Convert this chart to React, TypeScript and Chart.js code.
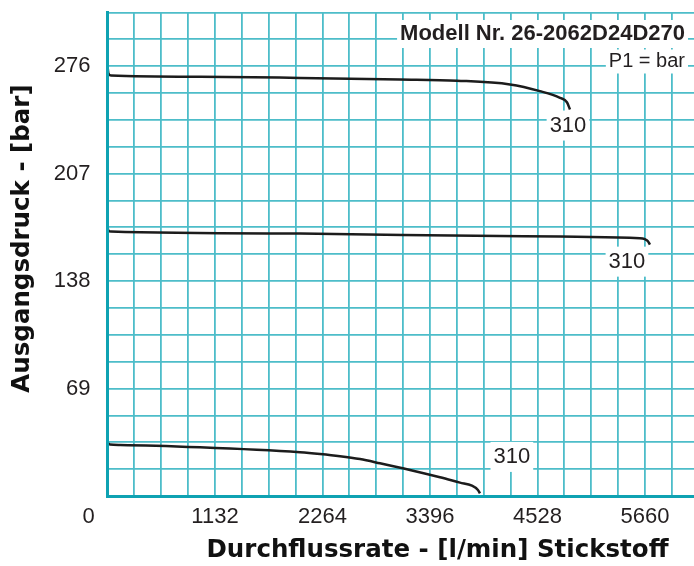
import React, { useEffect, useRef } from 'react';
import { Chart, registerables } from 'chart.js';

Chart.register(...registerables);

// Flow (l/min) and outlet pressure (bar)
const xTop = [0, 10, 37, 974, 2027, 3080, 3680, 4238, 4554, 4765, 4838, 4870];
const yTop = [276.2, 271.3, 270, 269.2, 268.5, 267.5, 266.7, 264.3, 260, 255.7, 252.9, 248.2];

const xMid = [0, 10, 37, 2027, 4133, 5607, 5660, 5691, 5712];
const yMid = [172.6, 170.4, 169.8, 168.5, 166.9, 165.6, 164.9, 163.6, 161.4];

const xLow = [0, 26, 132, 974, 2027, 2238, 2448, 2659, 2869, 3185, 3501, 3712, 3838, 3901, 3922];
const yLow = [34.3, 33.1, 32.8, 31.3, 28.1, 27.0, 25.6, 23.7, 21, 16.7, 12, 8.6, 6.6, 3.9, 1.7];

// curve labels (inlet pressure) and their anchor positions in data units
const curveLabels = ['310', '310', '310'];
const labelX = [4849, 5470, 4258];
const labelY = [237.9, 150.5, 25.1];

// axis tick labels
const xTickLabels = [1132, 2264, 3396, 4528, 5660];
const yTickLabels = [69, 138, 207, 276];
const xZeroLabel = '0';

const xGridStep = 283;
const xMax = 6176;
const yGridStep = 17.25;
const yMax = 310.5;

const modelText = 'Modell Nr. 26-2062D24D270';
const p1Text = 'P1 = bar';
const xTitle = 'Durchflussrate - [l/min] Stickstoff';
const yTitle = 'Ausgangsdruck - [bar]';

const toPts = (xs: number[], ys: number[]) => xs.map((x, i) => ({ x, y: ys[i] }));

const gridValues = (step: number, max: number) => {
  const out: { value: number }[] = [];
  for (let k = 0; k * step <= max + 1e-6; k++) out.push({ value: k * step });
  return out;
};

const TEXT = '#231f20';
const GRID = '#4dbdc9';
const AXIS = '#0ea2b2';
const FONT = "'Liberation Sans', Arial, sans-serif";
const TITLE_FONT = "bold 24.5px 'DejaVu Sans', sans-serif";

const noPad = (s: any) => {
  s.paddingTop = 0;
  s.paddingBottom = 0;
  s.paddingLeft = 0;
  s.paddingRight = 0;
};

export default function App() {
  const ref = useRef<HTMLCanvasElement | null>(null);

  useEffect(() => {
    document.body.style.margin = '0';
    const canvas = ref.current;
    if (!canvas) return;

    const boxText = (ctx: CanvasRenderingContext2D, text: string, x: number, y: number, size: number, font: string, align: CanvasTextAlign, padX: number, padY: number) => {
      ctx.font = font;
      const w = ctx.measureText(text).width;
      let left = x;
      if (align === 'center') left = x - w / 2;
      if (align === 'right') left = x - w;
      ctx.fillStyle = '#ffffff';
      ctx.fillRect(left - padX, y - size / 2 - padY, w + padX * 2, size + padY * 2);
      ctx.fillStyle = TEXT;
      ctx.textAlign = align;
      ctx.textBaseline = 'middle';
      ctx.fillText(text, x, y);
    };

    const annotations = {
      id: 'annotations',
      beforeDatasetsDraw(chart: any) {
        const ctx = chart.ctx as CanvasRenderingContext2D;
        const { chartArea } = chart;
        const xs = chart.scales.x;
        const ys = chart.scales.y;
        ctx.save();
        curveLabels.forEach((t, i) => {
          boxText(ctx, t, xs.getPixelForValue(labelX[i]), ys.getPixelForValue(labelY[i]), 22, `22px ${FONT}`, 'center', 3, 4);
        });
        boxText(ctx, modelText, chartArea.right - 9, chartArea.top + 21.5, 22, `bold 22px ${FONT}`, 'right', 3, 3);
        boxText(ctx, p1Text, chartArea.right - 9, chartArea.top + 49, 20, `20px ${FONT}`, 'right', 3, 2);
        ctx.restore();
      },
      afterDraw(chart: any) {
        const ctx = chart.ctx as CanvasRenderingContext2D;
        const { chartArea } = chart;
        const xs = chart.scales.x;
        const item = (xs.getLabelItems(chartArea) || [])[0];
        const labelY = item ? item.options.translation[1] : chartArea.bottom + 8;
        ctx.save();
        ctx.fillStyle = TEXT;
        ctx.font = `22px ${FONT}`;
        ctx.textAlign = 'center';
        ctx.textBaseline = item ? item.options.textBaseline : 'top';
        ctx.fillText(xZeroLabel, xs.getPixelForValue(0) - 19, labelY + (item ? item.textOffset : 0));
        ctx.font = TITLE_FONT;
        ctx.fillStyle = '#111111';
        ctx.textBaseline = 'middle';
        ctx.fillText(xTitle, chartArea.left + 330, chartArea.bottom + 55);
        ctx.translate(chartArea.left - 84.5, chartArea.top + 226);
        ctx.rotate(-Math.PI / 2);
        ctx.fillText(yTitle, 0, 0);
        ctx.restore();
      },
    };

    const lineDs = (data: { x: number; y: number }[]) => ({
      data,
      borderColor: '#1c1c1c',
      borderWidth: 2.5,
      pointRadius: 0,
      fill: false,
      cubicInterpolationMode: 'monotone' as const,
    });

    const chart = new Chart(canvas, {
      type: 'line',
      data: {
        datasets: [lineDs(toPts(xTop, yTop)), lineDs(toPts(xMid, yMid)), lineDs(toPts(xLow, yLow))],
      },
      options: {
        animation: false,
        responsive: false,
        devicePixelRatio: 1,
        layout: { padding: { top: 12.5, right: 0, bottom: 0, left: 0 } },
        plugins: { legend: { display: false }, tooltip: { enabled: false }, title: { display: false } },
        scales: {
          x: {
            type: 'linear',
            position: 'bottom',
            min: 0,
            max: xMax,
            afterBuildTicks: (s: any) => { s.ticks = xTickLabels.map((v) => ({ value: v })); },
            afterFit: (s: any) => { s.height = 70; noPad(s); },
            grid: { display: false, drawTicks: false },
            border: { color: AXIS, width: 3, z: 1 },
            ticks: {
              autoSkip: false,
              maxRotation: 0,
              padding: 8,
              color: TEXT,
              font: { family: FONT, size: 22 },
              callback: (v: any) => String(v),
            },
          },
          xGrid: {
            type: 'linear',
            position: 'top',
            min: 0,
            max: xMax,
            afterBuildTicks: (s: any) => { s.ticks = gridValues(xGridStep, xMax); },
            afterFit: (s: any) => { s.height = 0; noPad(s); },
            grid: { color: GRID, lineWidth: 1.8, drawTicks: false, z: -1 },
            border: { display: false },
            ticks: { display: false, autoSkip: false },
          },
          y: {
            type: 'linear',
            position: 'left',
            min: 0,
            max: yMax,
            afterBuildTicks: (s: any) => { s.ticks = yTickLabels.map((v) => ({ value: v })); },
            afterFit: (s: any) => { s.width = 107.5; noPad(s); },
            grid: { display: false, drawTicks: false },
            border: { color: AXIS, width: 3, z: 1 },
            ticks: {
              autoSkip: false,
              padding: 17,
              color: TEXT,
              font: { family: FONT, size: 22 },
              callback: (v: any) => String(v),
            },
          },
          yGrid: {
            type: 'linear',
            position: 'right',
            min: 0,
            max: yMax,
            afterBuildTicks: (s: any) => { s.ticks = gridValues(yGridStep, yMax); },
            afterFit: (s: any) => { s.width = 0; noPad(s); },
            grid: { color: GRID, lineWidth: 1.8, drawTicks: false, z: -1 },
            border: { display: false },
            ticks: { display: false, autoSkip: false },
          },
        },
      },
      plugins: [annotations],
    });

    return () => chart.destroy();
  }, []);

  return (
    <div style={{ width: 694, height: 566, background: '#ffffff' }}>
      <canvas ref={ref} width={694} height={566} style={{ display: 'block' }} />
    </div>
  );
}
